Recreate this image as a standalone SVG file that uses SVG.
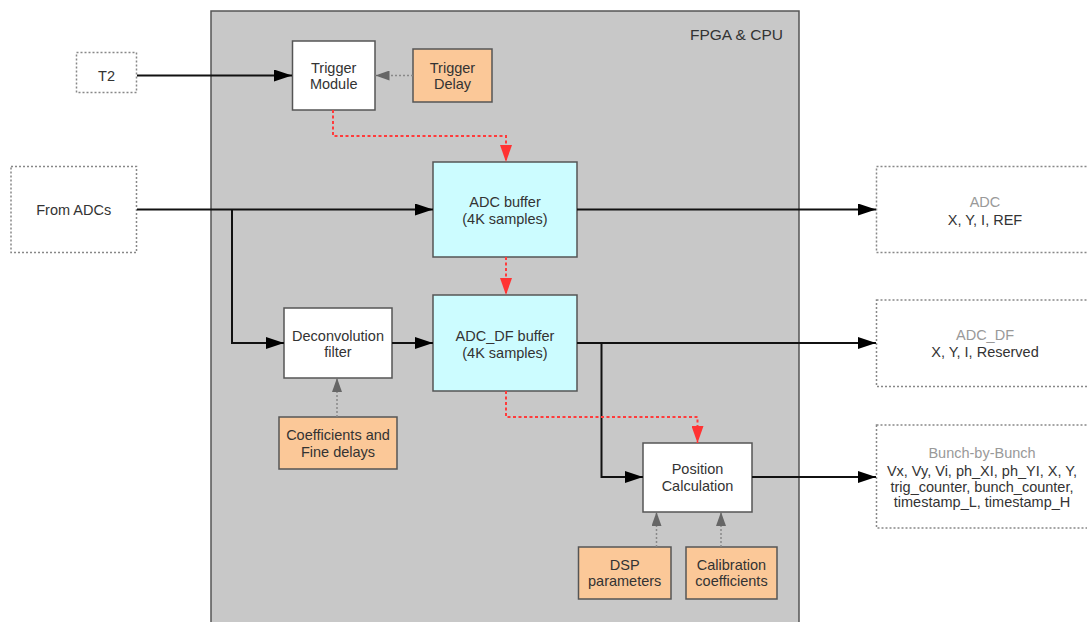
<svg xmlns="http://www.w3.org/2000/svg" width="1087" height="622" viewBox="0 0 1087 622">
<defs>
<style>
text{font-family:"Liberation Sans",Arial,sans-serif;font-size:14.5px;fill:#333;text-anchor:middle}
.box{stroke:#555;stroke-width:1.5}
.white{fill:#fff}
.cyan{fill:#ccfcff}
.orange{fill:#fbc898}
.ext{fill:#fff;stroke:#888;stroke-width:1.5;stroke-dasharray:2,2}
.hdr{fill:#999}
.blk{fill:none;stroke:#111;stroke-width:2}
.red{fill:none;stroke:#ff3b3b;stroke-width:2;stroke-dasharray:3,2.5}
.gry{fill:none;stroke:#888;stroke-width:1.5;stroke-dasharray:2,2}
</style>
<marker id="ab" markerWidth="18" markerHeight="12" refX="18" refY="6" orient="auto" markerUnits="userSpaceOnUse"><path d="M0,0 L18,6 L0,12 z" fill="#000"/></marker>
<marker id="ar" markerWidth="17" markerHeight="12" refX="17" refY="6" orient="auto" markerUnits="userSpaceOnUse"><path d="M0,0 L17,6 L0,12 z" fill="#ff3333"/></marker>
<marker id="ag" markerWidth="14" markerHeight="10" refX="14" refY="5" orient="auto" markerUnits="userSpaceOnUse"><path d="M0,0 L14,5 L0,10 z" fill="#666"/></marker>
</defs>
<rect width="1087" height="622" fill="#fff"/>
<g id="fpga">
<rect x="211" y="11" width="588" height="625" fill="#c8c8c8" stroke="#555" stroke-width="1.5"/>
<text x="783" y="40" style="font-size:15.5px;text-anchor:end">FPGA &amp; CPU</text>
</g>
<g id="t2"><rect class="ext" x="76.5" y="52.5" width="60" height="40"/><text x="106.5" y="80.5">T2</text></g>
<g id="from-adcs"><rect class="ext" x="11" y="166.5" width="125.5" height="86"/><text x="73.7" y="215">From ADCs</text></g>
<g id="trigger-module"><rect class="box white" x="292.5" y="41" width="82.5" height="69"/><text x="333.7" y="72.5">Trigger</text><text x="333.7" y="88.5">Module</text></g>
<g id="trigger-delay"><rect class="box orange" x="413" y="49" width="79" height="53"/><text x="452.5" y="72.5">Trigger</text><text x="452.5" y="88.5">Delay</text></g>
<g id="adc-buffer"><rect class="box cyan" x="433" y="162" width="144" height="95"/><text x="505" y="206.5">ADC buffer</text><text x="505" y="223.5">(4K samples)</text></g>
<g id="adc-df-buffer"><rect class="box cyan" x="433" y="295" width="144" height="96"/><text x="505" y="341">ADC_DF buffer</text><text x="505" y="357.5">(4K samples)</text></g>
<g id="deconvolution"><rect class="box white" x="284" y="308" width="108" height="70"/><text x="338" y="340.5">Deconvolution</text><text x="338" y="356.5">filter</text></g>
<g id="coefficients"><rect class="box orange" x="279" y="417" width="118" height="52"/><text x="338" y="440">Coefficients and</text><text x="338" y="457">Fine delays</text></g>
<g id="position-calc"><rect class="box white" x="643" y="443" width="109" height="69"/><text x="697.5" y="474">Position</text><text x="697.5" y="490.5">Calculation</text></g>
<g id="dsp"><rect class="box orange" x="578.5" y="547" width="92.5" height="52"/><text x="624.7" y="570">DSP</text><text x="624.7" y="586">parameters</text></g>
<g id="calibration"><rect class="box orange" x="686" y="547" width="91" height="52"/><text x="731.5" y="570">Calibration</text><text x="731.5" y="586">coefficients</text></g>
<g id="out-adc"><rect class="ext" x="876.5" y="166.5" width="218" height="86"/><text class="hdr" x="985" y="207">ADC</text><text x="985" y="224.5">X, Y, I, REF</text></g>
<g id="out-adc-df"><rect class="ext" x="876.5" y="300" width="218" height="86.5"/><text class="hdr" x="985" y="340">ADC_DF</text><text x="985" y="357">X, Y, I, Reserved</text></g>
<g id="out-bbb"><rect class="ext" x="876.5" y="425" width="218" height="103"/><text class="hdr" x="982" y="458">Bunch-by-Bunch</text><text x="982" y="476">Vx, Vy, Vi, ph_XI, ph_YI, X, Y,</text><text x="982" y="492">trig_counter, bunch_counter,</text><text x="982" y="507">timestamp_L, timestamp_H</text></g>
<g id="connectors">
<path class="blk" d="M137,75.5 H292" marker-end="url(#ab)"/>
<path class="blk" d="M137,209.5 H433" marker-end="url(#ab)"/>
<path class="blk" d="M232,209.5 V343 H284" marker-end="url(#ab)"/>
<path class="blk" d="M392,343 H433" marker-end="url(#ab)"/>
<path class="blk" d="M577,209.5 H876" marker-end="url(#ab)"/>
<path class="blk" d="M577,343 H876" marker-end="url(#ab)"/>
<path class="blk" d="M601.5,343 V477 H643" marker-end="url(#ab)"/>
<path class="blk" d="M752,477 H876" marker-end="url(#ab)"/>
<path class="red" d="M333,110 V136 H506 V162" marker-end="url(#ar)"/>
<path class="red" d="M506,257 V295" marker-end="url(#ar)"/>
<path class="red" d="M506,391 V417 H697.5 V443" marker-end="url(#ar)"/>
<path class="gry" d="M413,75.5 H375.5" marker-end="url(#ag)"/>
<path class="gry" d="M337,417 V378" marker-end="url(#ag)"/>
<path class="gry" d="M656.5,547 V512" marker-end="url(#ag)"/>
<path class="gry" d="M721,547 V512" marker-end="url(#ag)"/>
</g>
</svg>
